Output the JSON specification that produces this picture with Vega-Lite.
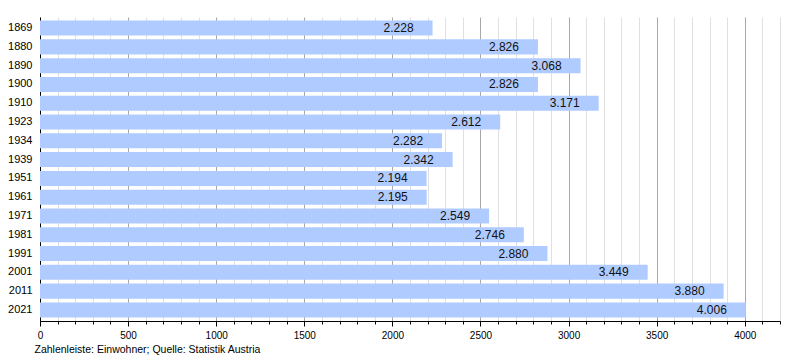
{
  "$schema": "https://vega.github.io/schema/vega-lite/v6.json",
  "width": 740,
  "height": 304,
  "autosize": {"type": "none"},
  "padding": {"left": 40, "top": 17, "right": 20, "bottom": 39},
  "config": {
    "view": {"stroke": null},
    "font": "Liberation Sans",
    "locale": {"number": {"decimal": ",", "thousands": ".", "grouping": [3], "currency": ["", " €"]}}
  },
  "data": {
    "values": [
      {"year": "1869", "pop": 2228},
      {"year": "1880", "pop": 2826},
      {"year": "1890", "pop": 3068},
      {"year": "1900", "pop": 2826},
      {"year": "1910", "pop": 3171},
      {"year": "1923", "pop": 2612},
      {"year": "1934", "pop": 2282},
      {"year": "1939", "pop": 2342},
      {"year": "1951", "pop": 2194},
      {"year": "1961", "pop": 2195},
      {"year": "1971", "pop": 2549},
      {"year": "1981", "pop": 2746},
      {"year": "1991", "pop": 2880},
      {"year": "2001", "pop": 3449},
      {"year": "2011", "pop": 3880},
      {"year": "2021", "pop": 4006}
    ]
  },
  "encoding": {
    "y": {
      "field": "year", "type": "ordinal", "sort": null,
      "scale": {"paddingInner": 0.2, "paddingOuter": 0.19},
      "axis": {
        "title": null, "ticks": false, "grid": false,
        "domainColor": "#000", "domainWidth": 1,
        "labelFontSize": 11, "labelColor": "#000", "labelPadding": 8
      }
    },
    "x": {
      "field": "pop", "type": "quantitative",
      "scale": {"domain": [0, 4200], "nice": false, "zero": true},
      "axis": {
        "values": [0,100,200,300,400,500,600,700,800,900,1000,1100,1200,1300,1400,1500,1600,1700,1800,1900,2000,2100,2200,2300,2400,2500,2600,2700,2800,2900,3000,3100,3200,3300,3400,3500,3600,3700,3800,3900,4000,4100,4200],
        "format": "d",
        "labelExpr": "datum.value % 500 === 0 ? datum.value : ''",
        "labelFontSize": 10, "labelColor": "#000", "labelPadding": 4,
        "labelFlush": false,
        "grid": true,
        "gridColor": {"condition": {"test": "datum.value % 500 === 0", "value": "#a8a8a8"}, "value": "#e0e0e0"},
        "tickColor": "#000",
        "tickSize": {"condition": {"test": "datum.value % 500 === 0", "value": 5}, "value": 3},
        "domainColor": "#000",
        "title": "Zahlenleiste: Einwohner; Quelle: Statistik Austria",
        "titleFontSize": 10.5, "titleFontWeight": "normal", "titleColor": "#000",
        "titleAnchor": "start", "titleAlign": "left", "titleBaseline": "middle", "titleX": -6, "titleY": 28
      }
    }
  },
  "layer": [
    {"mark": {"type": "bar", "color": "#b0cbff"}},
    {
      "mark": {"type": "text", "align": "right", "baseline": "middle", "dx": -19, "fontSize": 12, "color": "#111"},
      "encoding": {"text": {"field": "pop", "type": "quantitative", "format": ",d"}}
    }
  ]
}
